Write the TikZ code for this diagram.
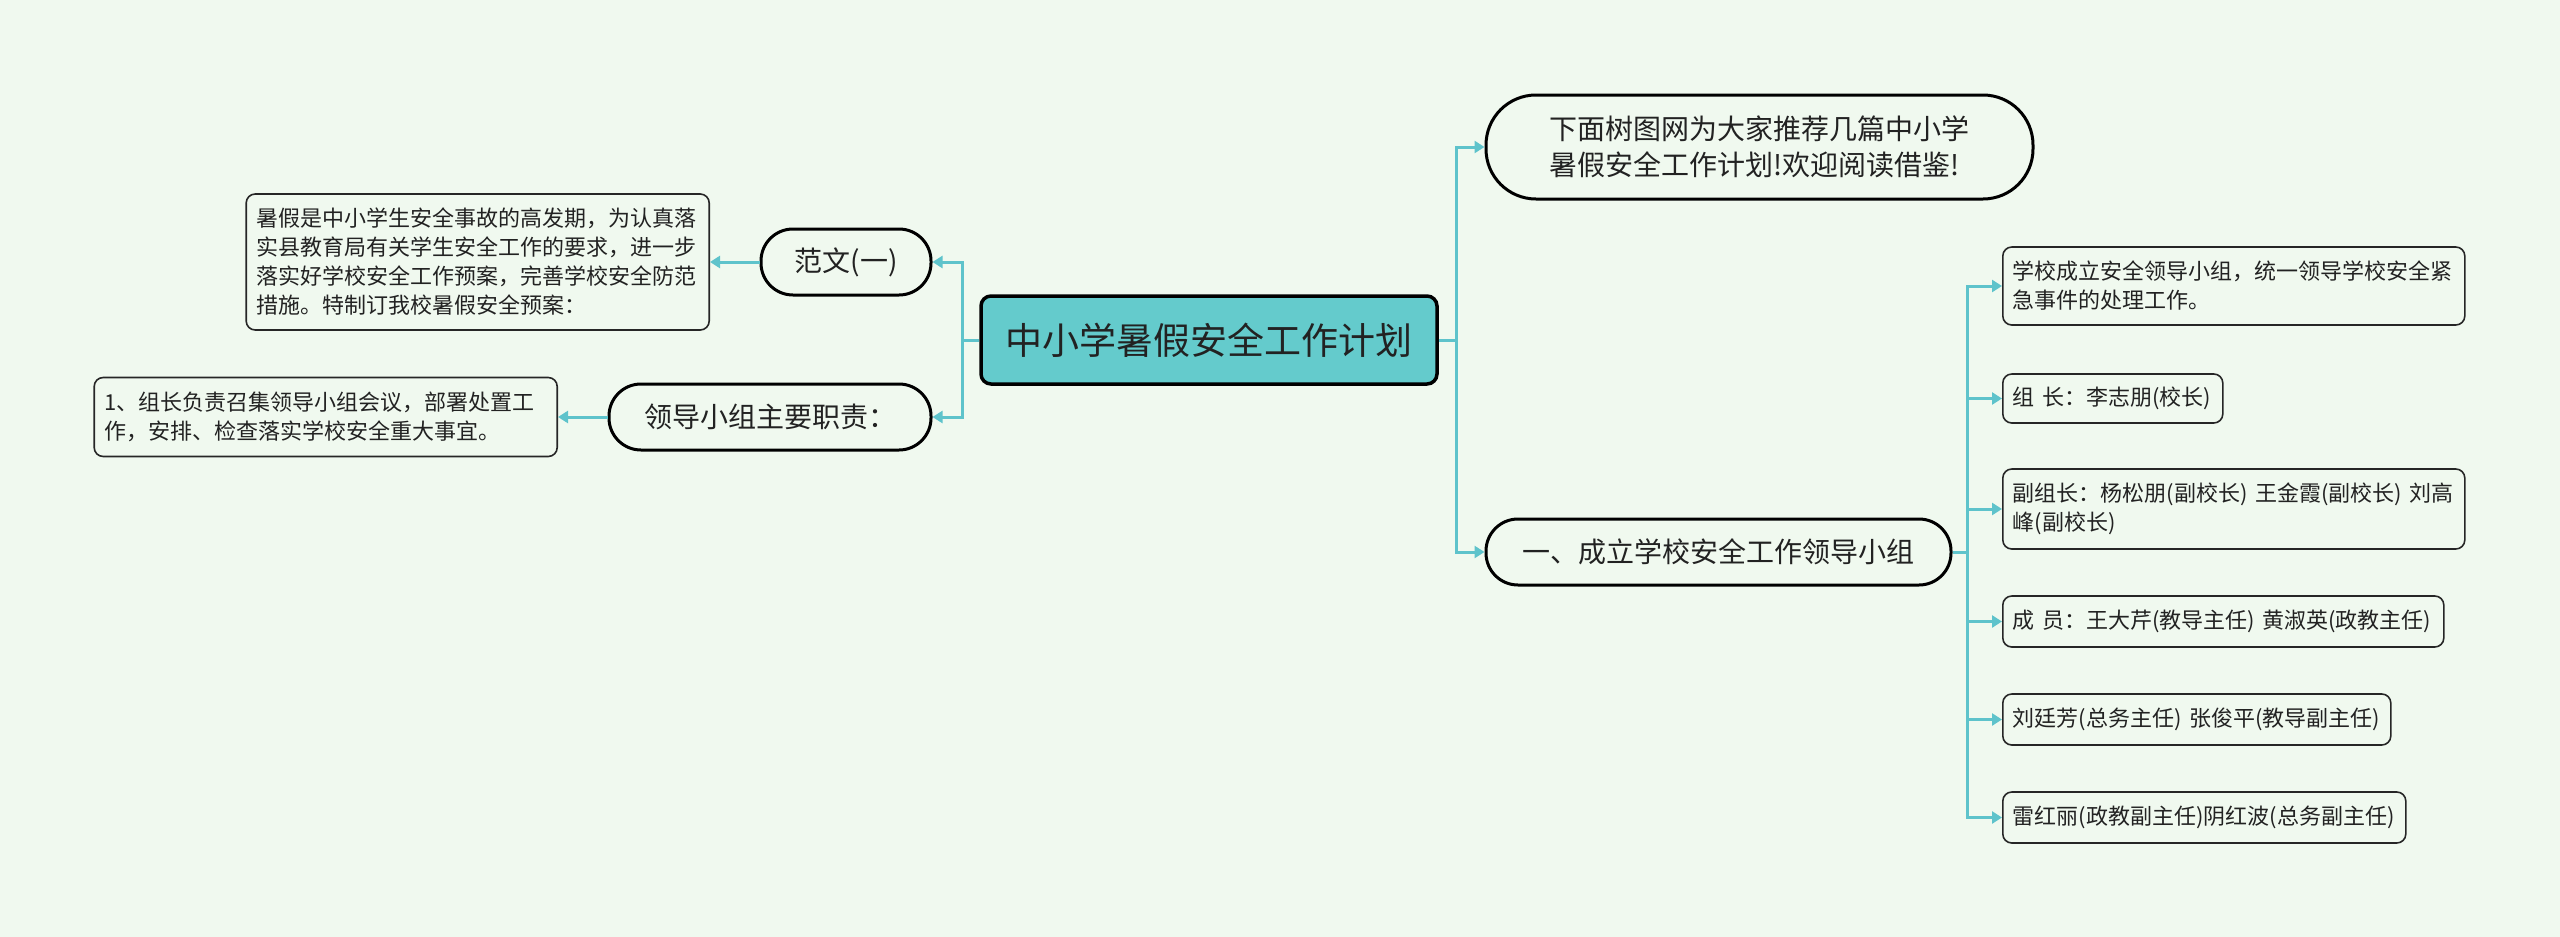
\documentclass[tikz,border=0pt]{standalone}
\usepackage{fontspec}
\newfontfamily\cjk{Noto Sans CJK SC}
\usetikzlibrary{arrows.meta}
\definecolor{bg}{HTML}{F0F9EF}
\definecolor{tealline}{HTML}{5EC3CB}
\definecolor{cfill}{HTML}{64CBCC}
\definecolor{txt}{HTML}{222222}
\begin{document}
\begin{tikzpicture}[x=1pt,y=-1pt,
  conn/.style={draw=tealline,line width=3pt,-{Triangle[length=10pt,width=12pt]}},
  root/.style={draw=black,line width=3.5pt,fill=cfill,rounded corners=10pt,font=\cjk\fontsize{37}{44}\selectfont,text=txt,minimum width=456pt,minimum height=88pt},
  pill/.style={draw=black,line width=3pt,fill=bg,rounded corners=32pt,font=\cjk\fontsize{28}{36}\selectfont,text=txt,minimum height=66pt,align=left},
  leaf/.style={draw=black!85,line width=1.6pt,fill=bg,rounded corners=9pt,font=\cjk\fontsize{22}{29}\selectfont,text=txt,align=left,anchor=west,inner xsep=10pt,inner ysep=6pt}
]
\fill[bg] (0,0) rectangle (2560,937);
\useasboundingbox (0,0) rectangle (2560,937);

\node[root] (root) at (1209,340) {中小学暑假安全工作计划};

\node[pill,minimum width=547pt,minimum height=104pt,rounded corners=50pt] (tr) at (1759.5,147) {下面树图网为大家推荐几篇中小学\\暑假安全工作计划!欢迎阅读借鉴!};
\node[pill,minimum width=465pt] (g1) at (1718.5,552) {一、成立学校安全工作领导小组};
\node[pill,minimum width=170pt] (fw) at (846,262) {范文(一)};
\node[pill,minimum width=322pt] (ld) at (770,417) {领导小组主要职责：};

\node[leaf,anchor=east,text width=443pt,minimum height=136pt] (L1) at (710,262) {暑假是中小学生安全事故的高发期，为认真落\\实县教育局有关学生安全工作的要求，进一步\\落实好学校安全工作预案，完善学校安全防范\\措施。特制订我校暑假安全预案：};
\node[leaf,anchor=east,text width=443pt,minimum height=79pt] (L2) at (558,417) {1、组长负责召集领导小组会议，部署处置工\\作，安排、检查落实学校安全重大事宜。};

\node[leaf,text width=442pt,minimum height=78pt] (A) at (2002,286) {学校成立安全领导小组，统一领导学校安全紧\\急事件的处理工作。};
\node[leaf,text width=200pt,minimum height=49pt] (B) at (2002,398.5) {组 长：李志朋(校长)};
\node[leaf,text width=442pt,minimum height=80pt] (C) at (2002,509) {副组长：杨松朋(副校长) 王金霞(副校长) 刘高\\峰(副校长)};
\node[leaf,text width=421pt,minimum height=51pt] (D) at (2002,621.5) {成 员：王大芹(教导主任) 黄淑英(政教主任)};
\node[leaf,text width=368pt,minimum height=51pt] (E) at (2002,719.5) {刘廷芳(总务主任) 张俊平(教导副主任)};
\node[leaf,text width=383pt,minimum height=51pt] (F) at (2002,817.5) {雷红丽(政教副主任)阴红波(总务副主任)};

\draw[conn] (root.east) -- ([xshift=18pt]root.east) |- (tr.west);
\draw[conn] (root.east) -- ([xshift=18pt]root.east) |- (g1.west);
\draw[conn] (root.west) -- ([xshift=-17pt]root.west) |- (fw.east);
\draw[conn] (root.west) -- ([xshift=-17pt]root.west) |- (ld.east);
\draw[conn] (fw.west) -- (L1.east);
\draw[conn] (ld.west) -- (L2.east);
\foreach \n in {A,B,C,D,E,F}
  \draw[conn] (g1.east) -- ([xshift=15pt]g1.east) |- (\n.west);
\end{tikzpicture}
\end{document}
